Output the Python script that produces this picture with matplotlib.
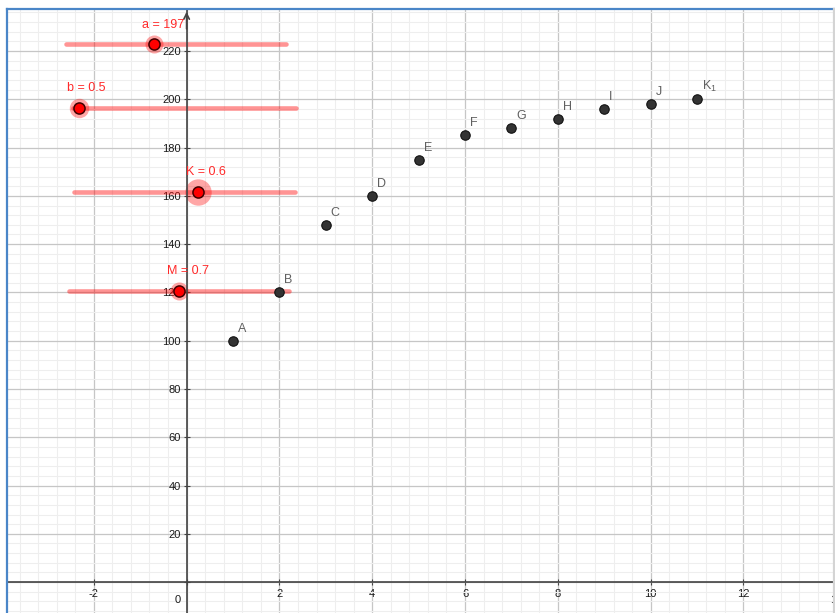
import matplotlib
matplotlib.use('Agg')
import matplotlib.pyplot as plt
from matplotlib.lines import Line2D
from matplotlib.ticker import MultipleLocator, FuncFormatter

plt.rcParams['font.family'] = ['Liberation Sans', 'DejaVu Sans']
plt.rcParams['mathtext.fontset'] = 'custom'
plt.rcParams['mathtext.rm'] = 'Liberation Sans'
plt.rcParams['mathtext.it'] = 'Liberation Sans'

# data points
point_names = ['A', 'B', 'C', 'D', 'E', 'F', 'G', 'H', 'I', 'J', 'K$_1$']
point_x = [1, 2, 3, 4, 5, 6, 7, 8, 9, 10, 11]
point_y = [100, 120, 148, 160, 175, 185, 188, 192, 196, 198, 200]

# sliders (name, value)
slider_names = ['a', 'b', 'K', 'M']
slider_values = ['197', '0.5', '0.6', '0.7']

# where the slider widgets sit on the graphics view
slider_y = [222.7, 196.4, 161.7, 120.7]
slider_start = [-2.60, -2.44, -2.42, -2.53]
slider_end = [2.14, 2.36, 2.34, 2.21]
slider_knob = [-0.70, -2.32, 0.24, -0.16]
halo_size = [13, 14, 19, 13]

W, H = 835, 613
fig = plt.figure(figsize=(W / 100, H / 100), dpi=100)
ax = fig.add_axes([7 / W, 0, 826 / W, 604 / H])
ax.set_xlim(-3.87, 13.93)
ax.set_ylim(-12.8, 237.4)

# grid like geogebra
ax.xaxis.set_major_locator(MultipleLocator(2))
ax.xaxis.set_minor_locator(MultipleLocator(0.4))
ax.yaxis.set_major_locator(MultipleLocator(20))
ax.yaxis.set_minor_locator(MultipleLocator(4))
ax.grid(which='minor', color='#eeeeee', lw=0.8)
ax.grid(which='major', color='#c6c6c6', lw=0.9)
ax.set_axisbelow(True)

# axes through origin
for s in ['top', 'right']:
    ax.spines[s].set_visible(False)
ax.spines['left'].set_position(('data', 0))
ax.spines['bottom'].set_position(('data', 0))
for s in ['left', 'bottom']:
    ax.spines[s].set_color('#444444')
    ax.spines[s].set_linewidth(1.2)

fmt = FuncFormatter(lambda v, p: '' if abs(v) < 1e-9 else '%d' % round(v))
ax.xaxis.set_major_formatter(fmt)
ax.yaxis.set_major_formatter(fmt)
ax.tick_params(which='major', direction='inout', length=4, width=0.8,
               color='#444444', labelsize=8, labelcolor='#1a1a1a', pad=2)
ax.tick_params(axis='x', which='major', pad=3)
ax.tick_params(which='minor', length=0)
ax.text(-0.12, -5.5, '0', ha='right', va='top', fontsize=8, color='#1a1a1a')
ax.text(14, -5.5, '14', ha='center', va='top', fontsize=8, color='#1a1a1a', clip_on=False)

# arrow on y axis
ax.annotate('', xy=(0, 237.4), xytext=(0, 228),
            arrowprops=dict(arrowstyle='->', color='#444444', lw=1.2))

# sliders
for i in range(len(slider_names)):
    y = slider_y[i]
    ax.plot([slider_start[i], slider_end[i]], [y, y], color='#ff0000', alpha=0.42,
            lw=3.3, solid_capstyle='round')
    ax.plot(slider_knob[i], y, 'o', ms=halo_size[i], color='#ff0000', alpha=0.35, mec='none')
    ax.plot(slider_knob[i], y, 'o', ms=8, mfc='#ff0000', mec='#400000', mew=1.1)
    ax.annotate(slider_names[i] + ' = ' + slider_values[i], (slider_knob[i], y),
                xytext=(-8.6, 12), textcoords='offset points', color='#ff2a2a',
                fontsize=9, va='baseline')

# points
ax.plot(point_x, point_y, 'o', ms=6.8, mfc='#333333', mec='#111111', mew=0.8, ls='none')
for n, x, y in zip(point_names, point_x, point_y):
    ax.annotate(n, (x, y), xytext=(3.6, 6.5), textcoords='offset points',
                color='#606060', fontsize=9, va='baseline')

# window borders
fig.add_artist(Line2D([7 / W, 7 / W], [0, 604 / H], color='#4a86c8', lw=1.6))
fig.add_artist(Line2D([7 / W, 1], [604 / H, 604 / H], color='#4a86c8', lw=1.6))
fig.add_artist(Line2D([834 / W, 834 / W], [0, 604 / H], color='#d4d4d4', lw=1.6))

fig.savefig('out.png', dpi=100)
